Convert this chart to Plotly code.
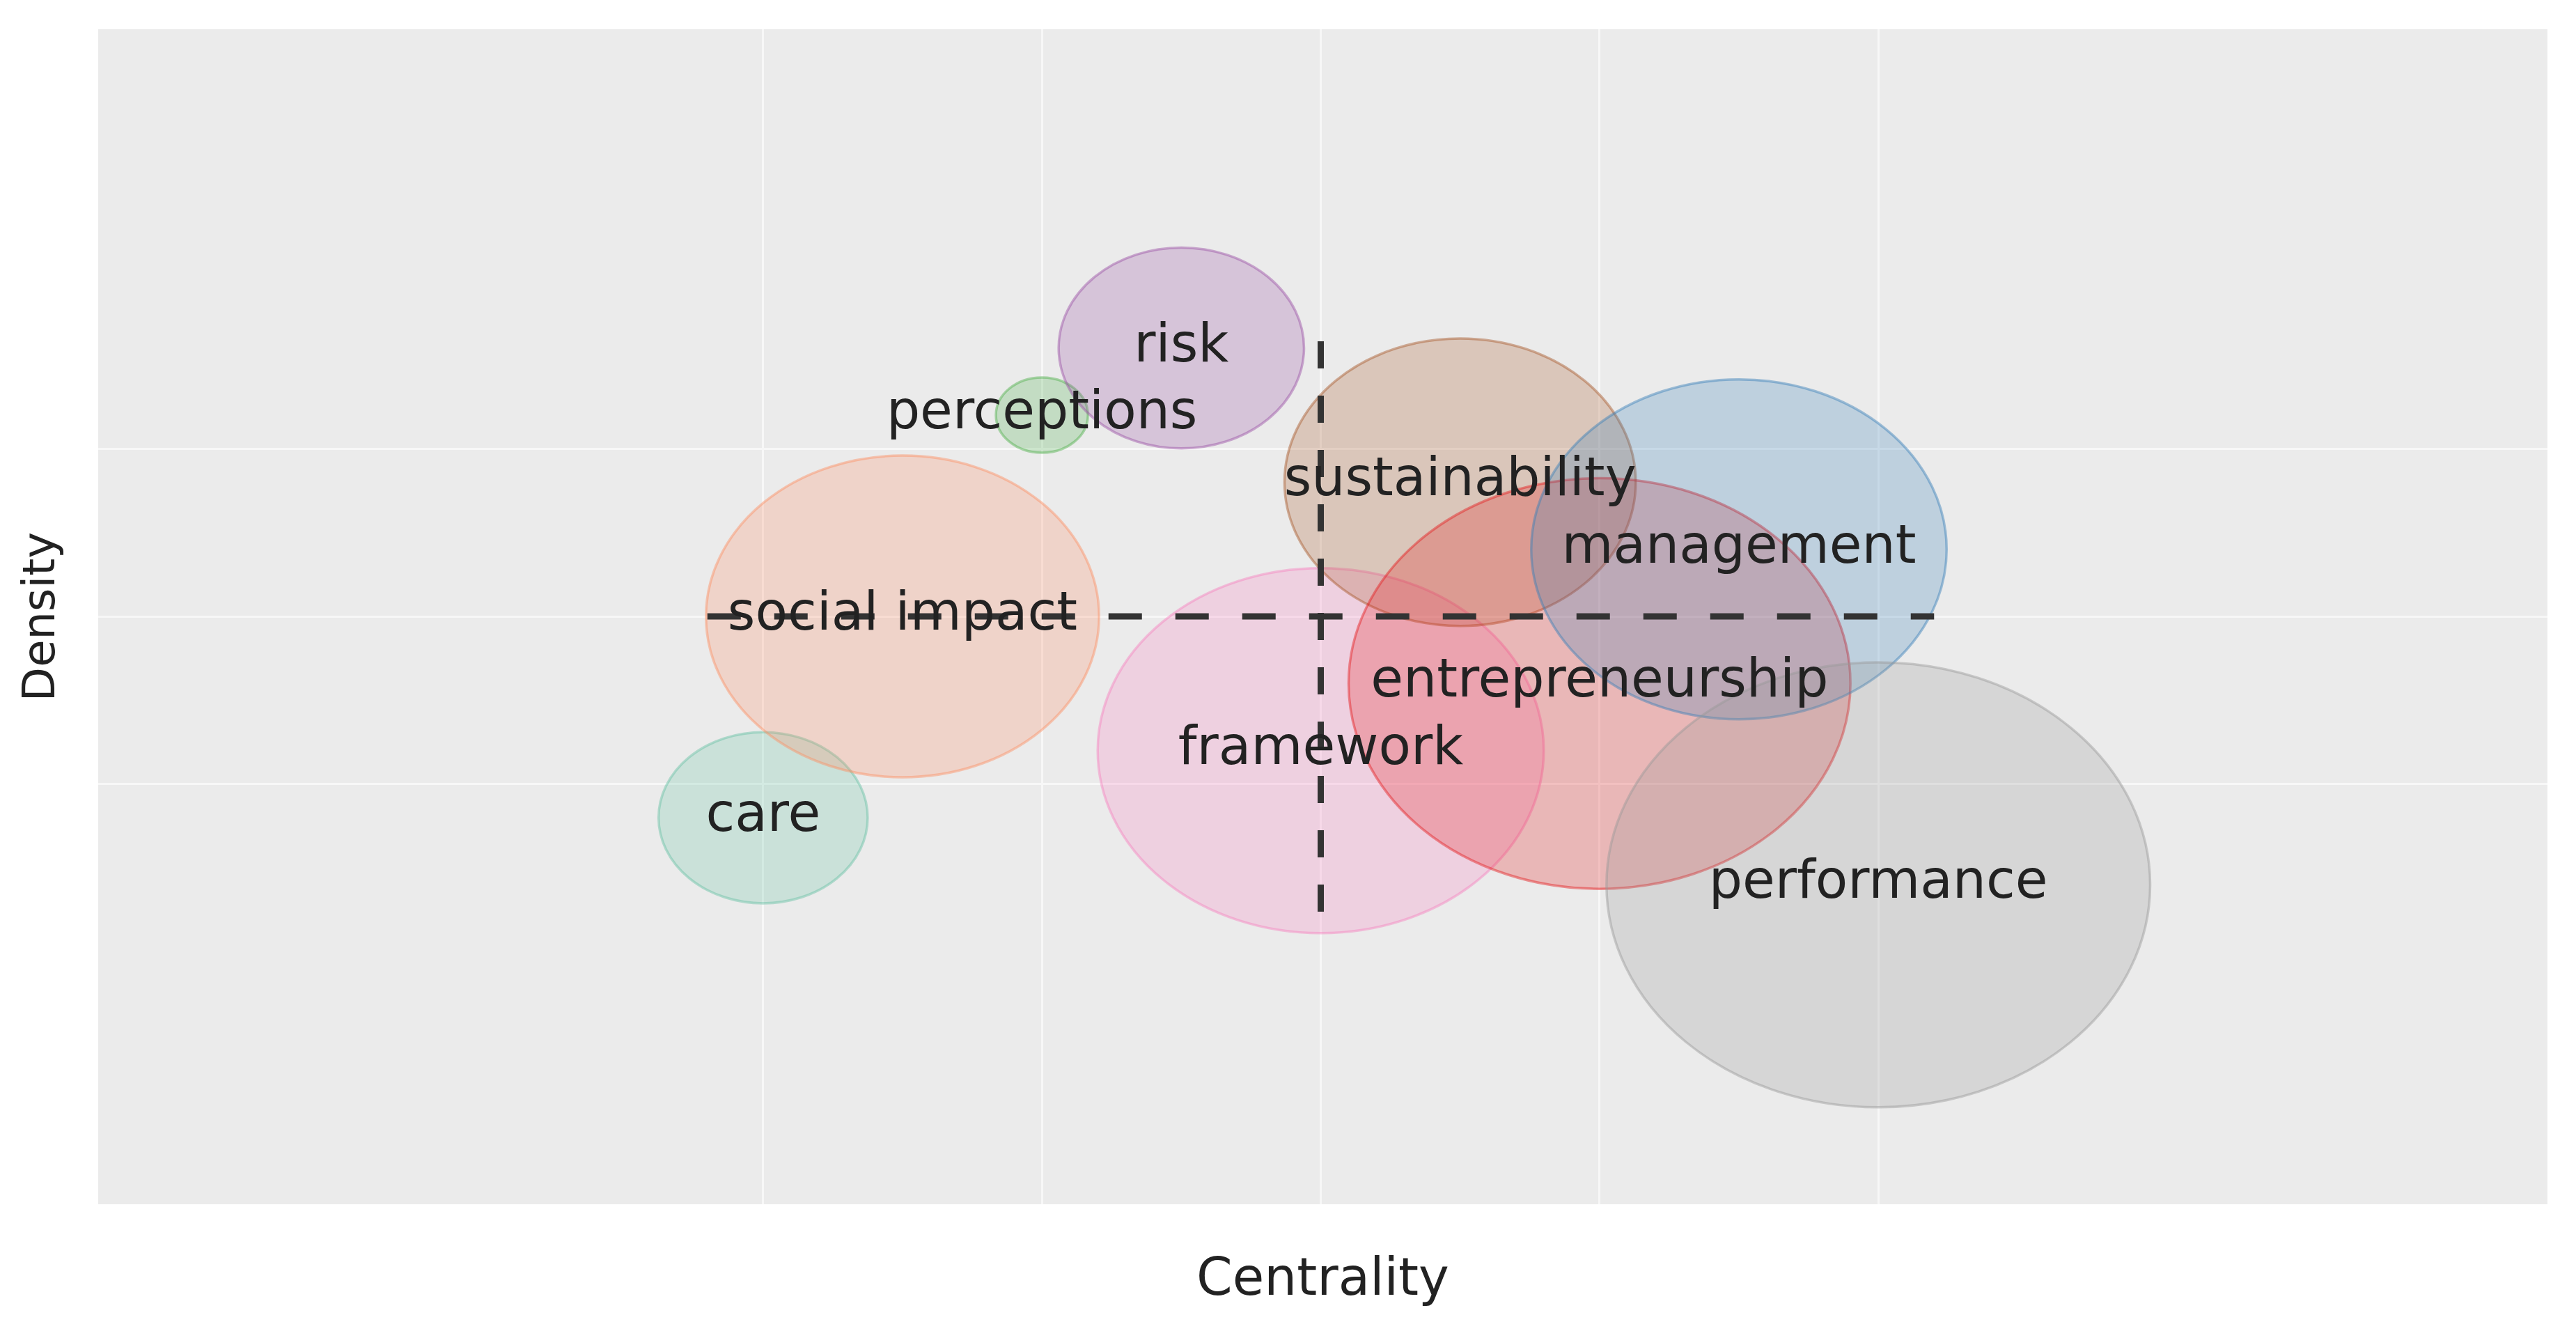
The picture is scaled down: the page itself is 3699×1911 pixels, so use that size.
import plotly.graph_objects as go

# thematic map: clusters ranked by centrality / density
themes = ["care", "social impact", "perceptions", "risk", "framework",
          "sustainability", "entrepreneurship", "management", "performance"]
centrality = [1, 2, 3, 4, 5, 6, 7, 8, 9]
density = [2, 5, 8, 9, 3, 7, 4, 6, 1]
bubble = [0.75, 1.41, 0.33, 0.88, 1.60, 1.26, 1.80, 1.49, 1.95]
colors = ["#66C2A5", "#FC8D62", "#4DAF4A", "#984EA3", "#F781BF",
          "#A65628", "#E41A1C", "#377EB8", "#999999"]

ASPECT = 1.70  # y radius / x radius in data units
PAD = 0.4


def rgba(hexcol, a):
    h = hexcol.lstrip("#")
    r, g, b = int(h[0:2], 16), int(h[2:4], 16), int(h[4:6], 16)
    return f"rgba({r},{g},{b},{a})"


shapes = []
for cx, cy, r, c in zip(centrality, density, bubble, colors):
    shapes.append(dict(type="circle", xref="x", yref="y", layer="between",
                       x0=cx - r, x1=cx + r,
                       y0=cy - r * ASPECT, y1=cy + r * ASPECT,
                       fillcolor=rgba(c, 0.25),
                       line=dict(color=rgba(c, 0.45), width=3.5)))

xm = sum(centrality) / len(centrality)
ym = sum(density) / len(density)
shapes.append(dict(type="line", xref="x", yref="y", layer="between",
                   x0=min(centrality) - PAD, x1=max(centrality) + PAD, y0=ym, y1=ym,
                   line=dict(color="#333333", width=9, dash="48px,48px")))
shapes.append(dict(type="line", xref="x", yref="y", layer="between",
                   x0=xm, x1=xm, y0=min(density) - PAD, y1=max(density) + PAD,
                   line=dict(color="#333333", width=9, dash="39px,39px")))

labels = go.Scatter(x=centrality, y=density, mode="text", text=themes,
                    textposition="middle center", hoverinfo="text",
                    textfont=dict(family="DejaVu Sans", size=76, color="#222222"))

fig = go.Figure(data=[labels])

fig.update_layout(width=3683, height=1895,
                  margin=dict(l=133, r=33, t=34, b=174),
                  paper_bgcolor="white", plot_bgcolor="#EBEBEB",
                  showlegend=False, shapes=shapes,
                  font=dict(family="DejaVu Sans", color="#222222"),
                  xaxis=dict(range=[-3.77, 13.8], autorange=False, zeroline=False,
                             tickvals=[1, 3, 5, 7, 9], showticklabels=False, ticks="",
                             gridcolor="#F7F7F7", gridwidth=2.5, automargin=False,
                             title=dict(text="Centrality", standoff=78,
                                        font=dict(size=74, color="#222222"))),
                  yaxis=dict(range=[-3.76, 13.75], autorange=False, zeroline=False,
                             tickvals=[2.5, 5, 7.5], showticklabels=False, ticks="",
                             gridcolor="#F7F7F7", gridwidth=2.5, automargin=False,
                             title=dict(text="Density", standoff=40,
                                        font=dict(size=64, color="#222222"))))

fig.write_html("out.html")
